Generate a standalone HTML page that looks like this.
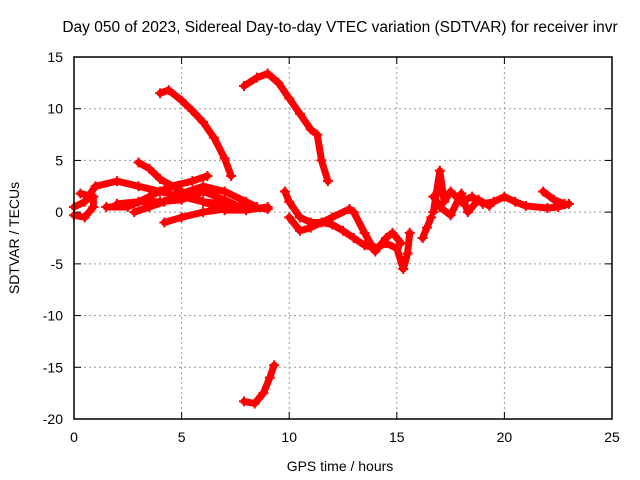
<!DOCTYPE html>
<html><head><meta charset="utf-8"><style>
body{margin:0;background:#fff;width:640px;height:480px;overflow:hidden}
svg{display:block;font-family:"Liberation Sans",sans-serif}
</style></head><body>
<svg id="chart" width="640" height="480">
<text x="340" y="32" text-anchor="middle" font-size="15.5">Day 050 of 2023, Sidereal Day-to-day VTEC variation (SDTVAR) for receiver invr</text>
<text x="340" y="471" text-anchor="middle" font-size="14">GPS time / hours</text>
<text transform="translate(19,238) rotate(-90)" text-anchor="middle" font-size="14">SDTVAR / TECUs</text>
<g id="grid"></g><g id="ticks"></g><g id="marks"></g>
<rect x="74" y="57" width="538" height="362" fill="none" stroke="#000" stroke-width="1.5"/>
</svg>
<script>
const xTicks=[0,5,10,15,20,25];
const yTicks=[15,10,5,0,-5,-10,-15,-20];
const track1=[[4.0,11.5],[4.4,11.8],[5,10.8],[5.5,9.8],[6,8.7],[6.5,7.2],[7,5.2],[7.3,3.5]];
const track2=[[7.9,12.2],[8.5,13],[9,13.4],[9.5,12.5],[10,11],[10.5,9.5],[11,8],[11.3,7.5],[11.5,5],[11.8,3]];
const track3=[[7.9,-18.3],[8.4,-18.5],[8.8,-17.5],[9.1,-16],[9.3,-14.8]];
const track4=[[0,0.5],[0.5,1],[1,2.5],[2,3],[3,2.5],[4,2],[5,1.5],[6,1],[7,0.8],[8,0.5],[9,0.3]];
const track5=[[1.5,0.5],[2.5,0.5],[3.5,1.5],[4.5,2.5],[5.5,3],[6.2,3.5]];
const track6=[[2,0.8],[3,1],[4,1],[5,1.2],[6,2],[7,1.2],[8,0.2]];
const track7=[[3,4.8],[3.5,4.2],[4,3.2],[5,2],[6,1],[7,0.2],[8,0.2],[9,0.5]];
const track8=[[2.8,0],[3.5,0.5],[4.2,1],[5,1.8],[6,2.5],[7,2],[8,1],[8.5,0.5]];
const track9=[[0,-0.3],[0.5,-0.5],[0.9,0.5],[0.9,1.5],[0.3,1.8]];
const track10=[[4.2,-1],[5,-0.5],[6,0],[7,0.3],[8,0.5]];
const track11=[[9.8,2],[10,1],[10.5,-0.5],[11,-1],[11.5,-1],[12,-1.2],[12.5,-1.8],[13,-2.5],[13.5,-3.2],[14,-3.5],[14.5,-3],[15,-3.5],[15.3,-5.5],[15.5,-4],[15.6,-2]];
const track12=[[10,-0.5],[10.5,-1.8],[11,-1.5],[12,-0.5],[12.8,0.3],[13,0],[13.5,-2],[14,-3.8],[14.5,-2.5],[14.8,-2],[15.2,-3]];
const track13=[[16.2,-2.5],[16.4,-1.5],[16.6,-0.5]];
const track14=[[16.7,0],[17,4],[17.2,1],[17.5,2],[18,1],[18.5,1.5],[19,0.8],[19.5,1],[20,1.5],[20.5,1],[21,0.6],[22,0.4],[22.5,0.5],[23,0.8]];
const track15=[[16.7,1.5],[17,0.5],[17.5,-0.3],[18,1.8],[18.3,0],[18.8,1.2],[19.3,0.6]];
const track16=[[21.8,2],[22.3,1.2],[22.8,0.8]];
const tracks=[track1,track2,track3,track4,track5,track6,track7,track8,track9,track10,track11,track12,track13,track14,track15,track16];
const X=v=>74+v*(538/25), Y=v=>57+(15-v)*(362/35);
const NS="http://www.w3.org/2000/svg";
const mk=(t,a,p)=>{const e=document.createElementNS(NS,t);for(const k in a)e.setAttribute(k,a[k]);p.appendChild(e);return e;};
const grid=document.getElementById('grid'),ticks=document.getElementById('ticks'),marks=document.getElementById('marks');
xTicks.forEach(t=>{
 if(t>0&&t<25){const l=mk('line',{x1:X(t),x2:X(t),y1:57,y2:419,stroke:'#999','stroke-dasharray':'2,3'},grid);
 
 }
 const tt=mk('text',{x:X(t),y:442,'text-anchor':'middle','font-size':14},ticks);tt.textContent=t;
 
 
 mk('line',{x1:X(t),x2:X(t),y1:419,y2:412,stroke:'#000'},ticks);
 mk('line',{x1:X(t),x2:X(t),y1:57,y2:64,stroke:'#000'},ticks);
});
yTicks.forEach(t=>{
 if(t<15&&t>-20){const l=mk('line',{x1:74,x2:612,y1:Y(t),y2:Y(t),stroke:'#999','stroke-dasharray':'2,3'},grid);
 
 }
 const tt=mk('text',{x:63,y:Y(t)+5,'text-anchor':'end','font-size':14},ticks);tt.textContent=t;
 
 
 mk('line',{x1:74,x2:81,y1:Y(t),y2:Y(t),stroke:'#000'},ticks);
 mk('line',{x1:612,x2:605,y1:Y(t),y2:Y(t),stroke:'#000'},ticks);
});
tracks.forEach((tr,i)=>{
 const pl=mk('polyline',{points:tr.map(p=>X(p[0])+','+Y(p[1])).join(' '),fill:'none',stroke:'#f00','stroke-width':7,'stroke-linejoin':'round','stroke-linecap':'round'},marks);
 
 
 tr.forEach(p=>{
  const m=mk('path',{d:`M${X(p[0])-5},${Y(p[1])}h10M${X(p[0])},${Y(p[1])-5}v10`,stroke:'#f00','stroke-width':2},marks);
  
  
 });
});
</script>
</body></html>
